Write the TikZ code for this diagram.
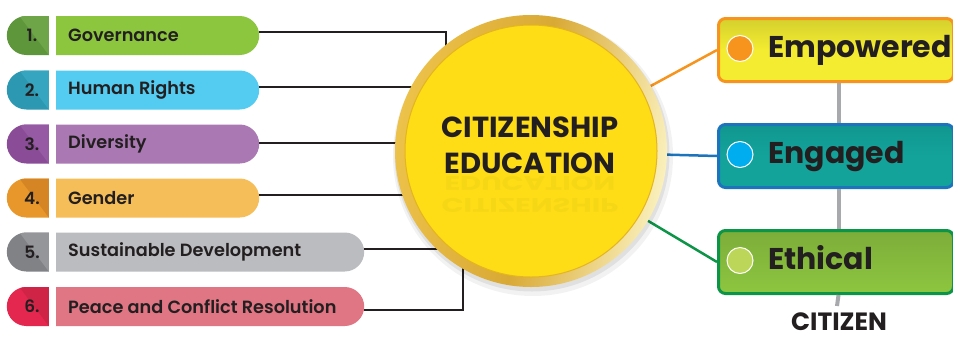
\documentclass[tikz,border=0pt]{standalone}
\usepackage{fontspec}
\setmainfont{Poppins}
\newfontfamily\popsemi{Poppins SemiBold}
\usetikzlibrary{shapes.misc,calc}
\definecolor{ink}{HTML}{231F20}
\definecolor{gMain}{HTML}{8CC63F}\definecolor{gNum}{HTML}{5E963C}\definecolor{gLt}{HTML}{6EA548}
\definecolor{hMain}{HTML}{54CBF1}\definecolor{hNum}{HTML}{2C98B2}\definecolor{hLt}{HTML}{35A5C0}
\definecolor{dMain}{HTML}{AA79B4}\definecolor{dNum}{HTML}{8A4C97}\definecolor{dLt}{HTML}{955AA3}
\definecolor{eMain}{HTML}{F6BE58}\definecolor{eNum}{HTML}{E8982A}\definecolor{eLt}{HTML}{D58524}
\definecolor{sMain}{HTML}{BBBCBF}\definecolor{sNum}{HTML}{818286}\definecolor{sLt}{HTML}{95969A}
\definecolor{pMain}{HTML}{E07684}\definecolor{pNum}{HTML}{E3274E}\definecolor{pLt}{HTML}{CF2446}
\definecolor{cYel}{HTML}{FEDC16}\definecolor{cEdge}{HTML}{E3B51E}
\definecolor{ringA}{HTML}{D9A935}\definecolor{ringM}{HTML}{EDC24A}\definecolor{ringB}{HTML}{FAF0BC}
\definecolor{oBord}{HTML}{F7941D}\definecolor{yTop}{HTML}{D5D02E}\definecolor{yBot}{HTML}{F4EC30}
\definecolor{bBord}{HTML}{1C75BC}\definecolor{tFill}{HTML}{13A39B}\definecolor{tTop}{HTML}{10978F}
\definecolor{gBord}{HTML}{0D9547}\definecolor{lTop}{HTML}{7DAD3A}\definecolor{lBot}{HTML}{8DC63F}
\definecolor{dotO}{HTML}{F7941D}\definecolor{dotB}{HTML}{00AEEF}\definecolor{dotG}{HTML}{BCD65A}
\definecolor{grayL}{HTML}{A7A9AC}
\definecolor{refl}{HTML}{F6D716}
\tikzset{
  pillmain/.style={rounded rectangle, rounded rectangle west arc=none, minimum height=39pt, anchor=west, inner sep=0pt},
  pillnum/.style={rounded rectangle, rounded rectangle east arc=none, minimum height=39pt, minimum width=42pt, anchor=east, inner sep=0pt},
  pilltext/.style={anchor=west, inner sep=0pt, text=ink, font=\popsemi\fontsize{17.7}{19}\selectfont},
  numtext/.style={inner sep=0pt, text=ink, font=\popsemi\fontsize{17}{19}\selectfont},
  conn/.style={draw=ink, line width=2pt},
  rbox/.style={rounded corners=7pt, line width=3pt, minimum width=235pt, minimum height=63pt, anchor=north west, inner sep=0pt},
  rdot/.style={circle, draw=white, line width=1pt, minimum size=26pt, inner sep=0pt},
  rtext/.style={anchor=base west, inner sep=0pt, text=ink, font=\bfseries\fontsize{30}{34}\selectfont},
  ctext/.style={anchor=base, inner sep=0pt, text=ink, font=\bfseries\fontsize{29}{33}\selectfont},
  rtxt/.style={anchor=base, inner sep=0pt, text=refl, transform shape, font=\bfseries\fontsize{29}{33}\selectfont},
}
\begin{document}
\begin{tikzpicture}[x=1pt,y=-1pt]
\clip (0,0) rectangle (953,338);
\fill[white] (0,0) rectangle (953,338);
% invisible circle node for connections
\node[circle, minimum size=272pt, inner sep=0pt] (circ) at (531,151) {};
% right boxes
\node[rbox, draw=oBord, top color=yTop, bottom color=yBot, middle color=yBot] (b1) at (717,17) {};
\node[rbox, draw=bBord, top color=tTop, bottom color=tFill, middle color=tFill] (b2) at (717,123) {};
\node[rbox, draw=gBord, top color=lTop, bottom color=lBot] (b3) at (717,229) {};
\node[rdot, fill=dotO] (d1) at (740,48.5) {};
\node[rdot, fill=dotB] (d2) at (740,154.5) {};
\node[rdot, fill=dotG] (d3) at (740,260.5) {};
\node[rtext] (e1) at (768,57.5) {Empowered};
\node[rtext] (e2) at (768,163) {Engaged};
\node[rtext] (e3) at (768,269) {Ethical};
\node[anchor=base, inner sep=0pt, text=ink, font=\bfseries\fontsize{25}{29}\selectfont] (cit) at (839,330.5) {CITIZEN};
\coordinate (cl) at (837,306);
\draw[grayL, line width=4pt] ([xshift=2.5pt]b1.south) -- ([xshift=2.5pt]b2.north);
\draw[grayL, line width=4pt] ([xshift=2.5pt]b2.south) -- ([xshift=2.5pt]b3.north);
\draw[grayL, line width=4pt] ([xshift=2.5pt]b3.south) -- (cl);
% left pills
\foreach \i/\yc/\w/\lab/\cm/\cn/\cl in {
  1/35.5/203/Governance/gMain/gNum/gLt,
  2/90/203/Human Rights/hMain/hNum/hLt,
  3/144/203/Diversity/dMain/dNum/dLt,
  4/198/203/Gender/eMain/eNum/eLt,
  5/252/308/Sustainable Development/sMain/sNum/sLt,
  6/306.5/308/Peace and Conflict Resolution/pMain/pNum/pLt}{
  \node[pillmain, fill=\cm, minimum width=\w pt] (m\i) at (56,\yc) {};
  \node[pillnum, fill=\cn, path picture={\fill[\cl] ($(path picture bounding box.north west)!0.3!(path picture bounding box.north east)$) -- (path picture bounding box.north east) -- (path picture bounding box.south east) -- cycle;}] (n\i) at (49,\yc) {};
  \node[numtext] (k\i) at (32,\yc) {\i.};
  \node[pilltext] (t\i) at (68,\yc) {\lab};
}
% left connectors
\coordinate (j1) at (446,70);
\coordinate (j2) at (440,87);
\coordinate (j3) at (440,143);
\coordinate (j4) at (440,195);
\coordinate (j5) at (470,249);
\coordinate (j6) at (463,250);
\draw[conn] ([yshift=3.5pt]m1.east) -| (j1);
\draw[conn] ([yshift=3pt]m2.east) -- (j2);
\draw[conn] ([yshift=1pt]m3.east) -- (j3);
\draw[conn] ([yshift=3pt]m4.east) -- (j4);
\draw[conn] ([yshift=3pt]m5.east) -- (j5);
\draw[conn] ([yshift=-3.5pt]m6.east) -| (j6);
% right connectors
\draw[oBord, line width=2.5pt] (circ) -- (b1.west);
\draw[bBord, line width=2.5pt] (circ) -- (b2.west);
\draw[gBord, line width=2.5pt] (circ) -- (b3.west);
% circle visuals
\fill[black, opacity=0.05] ($(circ.center)+(2,5)$) circle (140pt);
\fill[black, opacity=0.07] ($(circ.center)+(1,3)$) circle (137.5pt);
\shade[left color=ringM, right color=ringB, middle color=ringA, shading angle=80] (circ.center) circle (136pt);
\fill[cYel] (circ.center) circle (126pt);
\draw[cEdge, line width=1pt] (circ.center) circle (126pt);
% reflections
\begin{scope}[shift={(530,176)}, yscale=-0.68]
  \node[rtxt] (r2) at (0,0) {EDUCATION};
\end{scope}
\begin{scope}[shift={(530,198.5)}, yscale=-0.68]
  \node[rtxt] (r1) at (0,0) {CITIZENSHIP};
\end{scope}
\node[ctext] (c1) at (530,137) {CITIZENSHIP};
\node[ctext] (c2) at (530,173) {EDUCATION};
\end{tikzpicture}
\end{document}
